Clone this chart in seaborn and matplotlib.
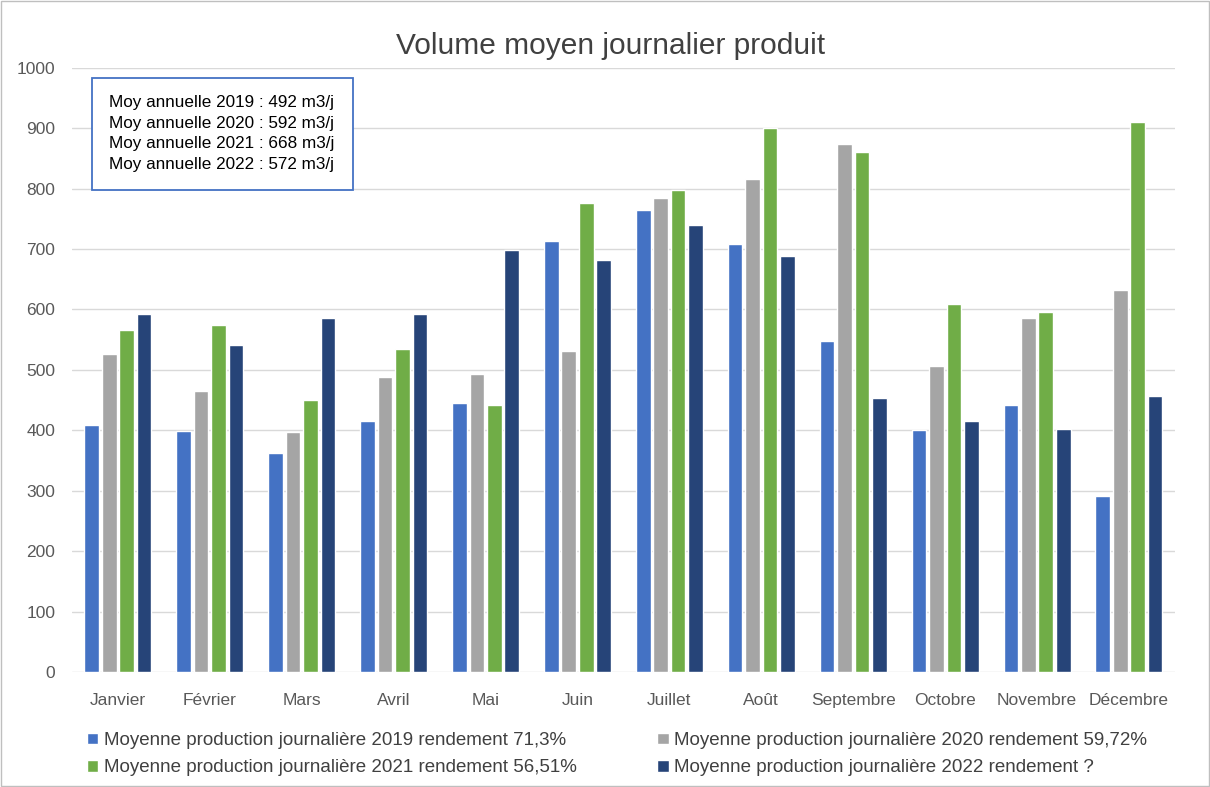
import numpy as np
import pandas as pd
import matplotlib.pyplot as plt
import seaborn as sns
from matplotlib.patches import Rectangle

months = ["Janvier", "Février", "Mars", "Avril", "Mai", "Juin",
          "Juillet", "Août", "Septembre", "Octobre", "Novembre", "Décembre"]
v2019 = [409, 399, 363, 415, 445, 713, 764, 708, 548, 401, 442, 291]
v2020 = [526, 465, 397, 489, 494, 532, 784, 816, 874, 507, 586, 632]
v2021 = [566, 574, 450, 534, 442, 776, 798, 901, 861, 609, 595, 910]
v2022 = [593, 541, 586, 593, 699, 681, 740, 688, 453, 416, 402, 456]

series = [
    "Moyenne production journalière 2019 rendement 71,3%",
    "Moyenne production journalière 2020 rendement 59,72%",
    "Moyenne production journalière 2021 rendement 56,51%",
    "Moyenne production journalière 2022 rendement ?",
]
box_lines = [
    "Moy annuelle 2019 : 492 m3/j",
    "Moy annuelle 2020 : 592 m3/j",
    "Moy annuelle 2021 : 668 m3/j",
    "Moy annuelle 2022 : 572 m3/j",
]
colors = ["#4472C4", "#A5A5A5", "#70AD47", "#264478"]


def main():
    rows = []
    for name, vals in zip(series, [v2019, v2020, v2021, v2022]):
        for m, v in zip(months, vals):
            rows.append({"mois": m, "serie": name, "volume": v})
    df = pd.DataFrame(rows)

    sns.set_style("white")
    plt.rcParams["font.family"] = ["Liberation Sans", "DejaVu Sans"]

    fig = plt.figure(figsize=(12.1, 7.87), dpi=100)
    ax = fig.add_axes([0.0595, 0.146, 0.9115, 0.768])

    sns.barplot(df, x="mois", y="volume", hue="serie", order=months,
                hue_order=series, palette=colors, width=0.76, gap=0.16,
                saturation=1, ax=ax, legend=True)

    ax.set_ylim(0, 1000)
    ax.set_yticks(np.arange(0, 1001, 100))
    ax.set_xlim(-0.5, 11.5)
    ax.grid(axis="y", color="#d9d9d9", linewidth=1)
    ax.set_axisbelow(True)
    for s in ax.spines.values():
        s.set_visible(False)
    ax.set_xlabel("")
    ax.set_ylabel("")
    ax.tick_params(axis="both", length=0, labelsize=12.5, colors="#595959")
    ax.tick_params(axis="x", pad=15)
    ax.tick_params(axis="y", pad=12)

    fig.text(0.505, 0.942, "Volume moyen journalier produit", ha="center",
             va="center", fontsize=21.5, color="#404040")

    ax.text(0.034, 0.954, "\n".join(box_lines), transform=ax.transAxes,
            ha="left", va="top", fontsize=12.3, color="black", linespacing=1.45,
            bbox=dict(boxstyle="square,pad=1.05", facecolor="white",
                      edgecolor="#4472C4", linewidth=1.3))

    handles, labels = ax.get_legend_handles_labels()
    ax.get_legend().remove()
    order = [0, 2, 1, 3]
    fig.legend([handles[i] for i in order], [labels[i] for i in order],
               loc="lower left", bbox_to_anchor=(0.058, -0.008), ncol=2,
               frameon=False, fontsize=13.5, handlelength=0.6,
               handleheight=0.6, handletextpad=0.3, columnspacing=4.3,
               labelspacing=0.55, labelcolor="#404040")

    fig.add_artist(Rectangle((0.001, 0.001), 0.998, 0.998,
                             transform=fig.transFigure, fill=False,
                             edgecolor="#bfbfbf", linewidth=1))

    fig.savefig("out.png", dpi=100)


if __name__ == "__main__":
    main()
